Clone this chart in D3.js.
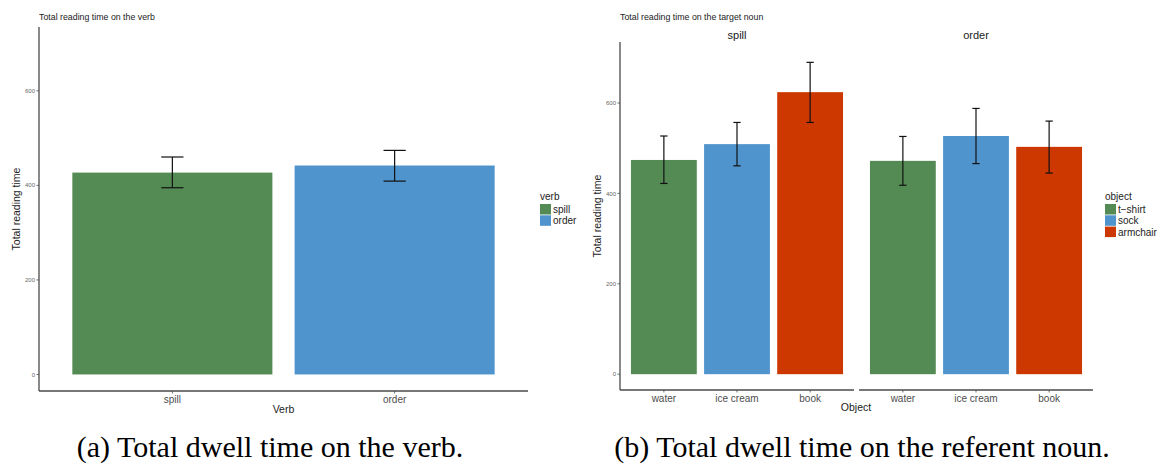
<!DOCTYPE html>
<html>
<head>
<meta charset="utf-8">
<script src="https://cdn.jsdelivr.net/npm/d3@7/dist/d3.min.js"></script>
<style>
  html, body { margin: 0; padding: 0; background: #fff; }
  svg { display: block; font-family: "Liberation Sans", Arial, sans-serif; }
</style>
</head>
<body>
<svg id="chart" width="1161" height="464"></svg>
<script>
// ---- data ----
const verbs = ["spill", "order"];
const verbMean = [427, 442];
const verbLow  = [395, 409];
const verbHigh = [460, 474];

const objects = ["water", "ice cream", "book"];
const objectLegend = ["t\u2212shirt", "sock", "armchair"];
const nounMean = { spill: [474, 509, 624], order: [472, 527, 503] };
const nounLow  = { spill: [422, 461, 557], order: [418, 466, 445] };
const nounHigh = { spill: [527, 557, 690], order: [526, 588, 560] };

const yTicks = [0, 200, 400, 600];
const yLimits = [-35, 735];

// ---- styles ----
const verbColors = ["#548B54", "#4F94CD"];
const objColors = ["#548B54", "#4F94CD", "#CD3700"];
const axisColor = "#4a4a4a";
const tickTextColor = "#4d4d4d";

const svg = d3.select("#chart");

function yAxis(g, y, x0) {
  g.append("line")
    .attr("x1", x0).attr("x2", x0)
    .attr("y1", y.range()[0]).attr("y2", y.range()[1])
    .attr("stroke", axisColor).attr("stroke-width", 1.3);
  yTicks.forEach(t => {
    g.append("line")
      .attr("x1", x0 - 2.5).attr("x2", x0)
      .attr("y1", y(t)).attr("y2", y(t))
      .attr("stroke", axisColor).attr("stroke-width", 0.8);
    g.append("text")
      .attr("x", x0 - 4).attr("y", y(t))
      .attr("dy", "0.35em").attr("text-anchor", "end")
      .attr("font-size", 6).attr("fill", "#666")
      .text(t);
  });
}

function xAxis(g, x, yPos, x0, x1) {
  g.append("line")
    .attr("x1", x0).attr("x2", x1)
    .attr("y1", yPos).attr("y2", yPos)
    .attr("stroke", axisColor).attr("stroke-width", 1.3);
  x.domain().forEach(c => {
    const cx = x(c) + x.bandwidth() / 2;
    g.append("line")
      .attr("x1", cx).attr("x2", cx)
      .attr("y1", yPos).attr("y2", yPos + 2.5)
      .attr("stroke", axisColor).attr("stroke-width", 0.8);
    g.append("text")
      .attr("x", cx).attr("y", yPos + 12)
      .attr("text-anchor", "middle")
      .attr("font-size", 10).attr("fill", tickTextColor)
      .text(c);
  });
}

function bars(g, x, y, cats, mean, low, high, colors) {
  cats.forEach((c, i) => {
    g.append("rect")
      .attr("x", x(c)).attr("width", x.bandwidth())
      .attr("y", y(mean[i])).attr("height", y(0) - y(mean[i]))
      .attr("fill", colors[i]);
  });
  const capW = x.step() * 0.1;
  cats.forEach((c, i) => {
    const cx = x(c) + x.bandwidth() / 2;
    const eg = g.append("g").attr("stroke", "#111").attr("stroke-width", 1.2);
    eg.append("line").attr("x1", cx).attr("x2", cx).attr("y1", y(high[i])).attr("y2", y(low[i]));
    eg.append("line").attr("x1", cx - capW / 2).attr("x2", cx + capW / 2).attr("y1", y(high[i])).attr("y2", y(high[i]));
    eg.append("line").attr("x1", cx - capW / 2).attr("x2", cx + capW / 2).attr("y1", y(low[i])).attr("y2", y(low[i]));
  });
}

function legend(g, x0, y0, title, labels, colors) {
  g.append("text").attr("x", x0).attr("y", y0).attr("font-size", 10).attr("fill", "#222").text(title);
  labels.forEach((l, i) => {
    const top = y0 + 4 + i * 11.3;
    g.append("rect").attr("x", x0).attr("y", top).attr("width", 11).attr("height", 10.5).attr("fill", colors[i]);
    g.append("text").attr("x", x0 + 13).attr("y", top + 5.5).attr("dy", "0.35em")
      .attr("font-size", 10).attr("fill", "#222").text(l);
  });
}

// ---- left chart: total reading time on the verb ----
{
  const g = svg.append("g");
  const px0 = 39, px1 = 528;
  const y = d3.scaleLinear().domain(yLimits).range([391, 27]);
  const x = d3.scaleBand().domain(verbs).range([px0, px1]).paddingInner(0.1).paddingOuter(0.15);

  g.append("text").attr("x", 39).attr("y", 20).attr("font-size", 8.8).attr("fill", "#222")
    .text("Total reading time on the verb");

  bars(g, x, y, verbs, verbMean, verbLow, verbHigh, verbColors);
  yAxis(g, y, px0);
  xAxis(g, x, 391, px0, px1);

  g.append("text").attr("x", (px0 + px1) / 2).attr("y", 413).attr("text-anchor", "middle")
    .attr("font-size", 10.5).attr("fill", "#222").text("Verb");
  g.append("text").attr("transform", `translate(20,${(27 + 391) / 2}) rotate(-90)`)
    .attr("text-anchor", "middle").attr("font-size", 10.5).attr("fill", "#222")
    .text("Total reading time");

  legend(g, 540, 200, "verb", verbs, verbColors);
}

// ---- right chart: total reading time on the target noun, faceted by verb ----
{
  const g = svg.append("g");
  const y = d3.scaleLinear().domain(yLimits).range([390, 42]);
  const panels = [
    { verb: "spill", x0: 620, x1: 854 },
    { verb: "order", x0: 859, x1: 1093 }
  ];

  g.append("text").attr("x", 620).attr("y", 20).attr("font-size", 8.8).attr("fill", "#222")
    .text("Total reading time on the target noun");

  panels.forEach((p, pi) => {
    const x = d3.scaleBand().domain(objects).range([p.x0, p.x1]).paddingInner(0.1).paddingOuter(0.15);
    bars(g, x, y, objects, nounMean[p.verb], nounLow[p.verb], nounHigh[p.verb], objColors);
    xAxis(g, x, 390, p.x0, p.x1);
    if (pi === 0) yAxis(g, y, p.x0);
    g.append("text").attr("x", (p.x0 + p.x1) / 2).attr("y", 39).attr("text-anchor", "middle")
      .attr("font-size", 11).attr("fill", "#1a1a1a").text(p.verb);
  });

  g.append("text").attr("x", 856).attr("y", 411).attr("text-anchor", "middle")
    .attr("font-size", 10.5).attr("fill", "#222").text("Object");
  g.append("text").attr("transform", `translate(601,${(42 + 390) / 2}) rotate(-90)`)
    .attr("text-anchor", "middle").attr("font-size", 10.5).attr("fill", "#222")
    .text("Total reading time");

  legend(g, 1105, 200, "object", objectLegend, objColors);
}

// ---- sub-figure captions ----
svg.append("text").attr("x", 270).attr("y", 457).attr("text-anchor", "middle")
  .attr("font-family", "'Liberation Serif', 'Times New Roman', serif").attr("font-size", 30)
  .attr("fill", "#000").text("(a) Total dwell time on the verb.");
svg.append("text").attr("x", 862).attr("y", 457).attr("text-anchor", "middle")
  .attr("font-family", "'Liberation Serif', 'Times New Roman', serif").attr("font-size", 30)
  .attr("fill", "#000").text("(b) Total dwell time on the referent noun.");
</script>
</body>
</html>
